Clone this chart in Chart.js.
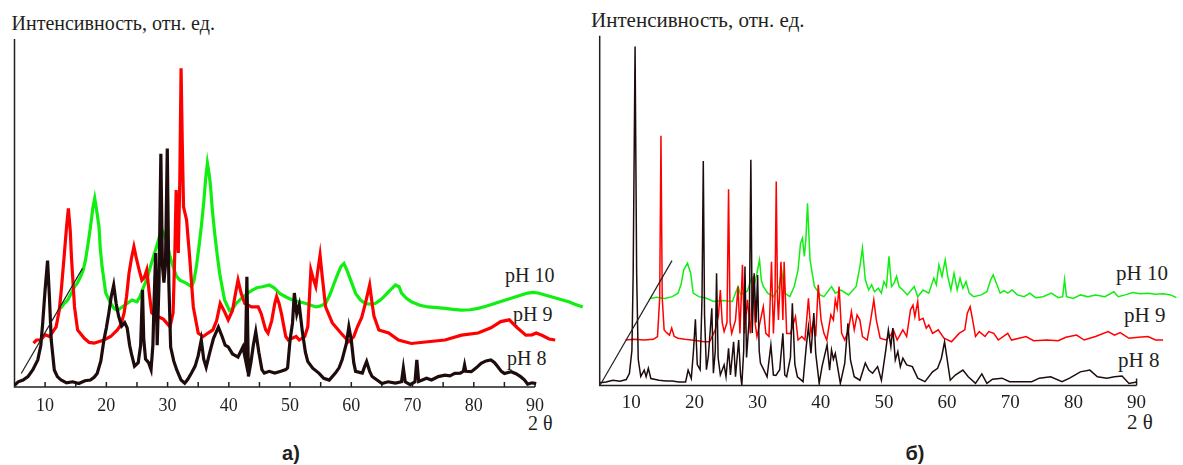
<!DOCTYPE html>
<html lang="ru">
<head>
<meta charset="utf-8">
<title>Дифрактограммы</title>
<script src="https://cdn.jsdelivr.net/npm/chart.js@4.4.1/dist/chart.umd.min.js"></script>
<style>
  body { margin: 0; background: #fff; }
  #page { position: relative; width: 1183px; height: 465px; overflow: hidden; background: #fff; }
  #page canvas { position: absolute; top: 0; }
  .lbl { position: absolute; white-space: nowrap; line-height: 1; color: #231f20;
         font-family: "Liberation Serif", "Times New Roman", "DejaVu Serif", serif; }
  .cap { position: absolute; width: 100px; text-align: center; line-height: 1; color: #231f20;
         font-family: "Liberation Sans", Arial, sans-serif; font-weight: bold; font-size: 20px; }
</style>
</head>
<body>
<div id="page">
  <div class="lbl" style="left:11.5px;top:13px;font-size:20px">Интенсивность, отн. ед.</div>
  <div class="lbl" style="left:505px;top:265px;font-size:20px">pH 10</div>
  <div class="lbl" style="left:513px;top:304px;font-size:20px">pH 9</div>
  <div class="lbl" style="left:507px;top:348px;font-size:20px">pH 8</div>
  <div class="lbl" style="left:528px;top:413px;font-size:20px">2 θ</div>
  <div class="cap" style="left:241px;top:443px">а)</div>

  <div class="lbl" style="left:591px;top:10px;font-size:21px">Интенсивность, отн. ед.</div>
  <div class="lbl" style="left:1116px;top:263px;font-size:21px">pH 10</div>
  <div class="lbl" style="left:1124px;top:305px;font-size:21px">pH 9</div>
  <div class="lbl" style="left:1118px;top:350px;font-size:21px">pH 8</div>
  <div class="lbl" style="left:1127px;top:412px;font-size:21px">2 θ</div>
  <div class="cap" style="left:865px;top:443px">б)</div>

  <canvas id="chartA" width="592" height="465" style="left:0"></canvas>
  <canvas id="chartB" width="593" height="465" style="left:590px"></canvas>
</div>

<script>
// подписи оси 2θ
const xTickLabels = [10, 20, 30, 40, 50, 60, 70, 80, 90];

// а) кривые сдвинуты вправо/вверх (псевдо-3D), точки [2θ, I] как на рисунке
const aPh8 = [[5.0,0.5],[5.6,1.5],[6.4,2.0],[7.2,3.0],[8.0,5.0],[8.8,7.8],[9.3,12],[9.6,18.3],[10.0,28],[10.4,36.3],
  [10.7,26],[11.0,13.5],[11.5,4.9],[12.0,3],[12.6,2],[13.5,1.2],[14.5,1.5],[15.5,1.0],[16.5,1.8],[17.4,2],
  [18.0,2.8],[18.5,3.9],[19.1,7.5],[19.6,13.5],[20.0,17],[20.4,21.2],[20.8,26],[21.2,29.3],[21.6,24],[22.0,20.4],
  [22.5,17.5],[23.0,18.5],[23.4,17],[23.8,12],[24.1,9.5],[24.6,6],[25.2,7],[25.6,12],[25.9,27.9],[26.1,14],
  [26.4,8],[26.9,7],[27.3,5],[27.6,12],[27.8,25],[28.05,38.5],[28.3,12],[28.6,30],[28.9,67],[29.15,35],
  [29.4,30],[29.65,35],[29.95,68.5],[30.2,30],[30.5,11.5],[31.0,7.5],[31.5,4.9],[32.2,2],[32.8,1.1],[33.3,2.2],
  [33.9,4],[34.5,6],[35.0,9],[35.5,13.5],[35.9,8],[36.3,5.7],[36.9,10],[37.5,14],[38.3,17.2],[38.9,14.5],
  [39.4,12],[39.9,11.5],[40.6,9.5],[41.5,8.6],[42.3,11.5],[42.7,8],[42.95,31.7],[43.2,3],[43.6,7],[44.0,12],
  [44.4,15.9],[44.9,10],[45.4,5],[45.8,4],[46.6,4.5],[47.5,4],[48.5,4.5],[49.3,5],[49.6,5.5],[50.0,13.5],
  [50.4,18.4],[50.7,27],[51.1,21],[51.5,23.6],[52.0,16],[52.5,10],[52.9,7.3],[53.7,5.4],[54.7,4],[55.5,2.5],
  [56.4,2],[57.4,4],[58.0,5.5],[58.5,7.8],[59.2,12.5],[59.6,17.3],[60.0,13.5],[60.4,7],[60.7,4.5],[61.8,4],
  [62.2,6],[62.5,7.3],[63.0,4.5],[63.4,3],[64.2,2],[65.0,1],[66.0,1.5],[67.2,1.1],[68.2,1.5],[68.5,5.4],
  [68.8,1.5],[69.6,0.7],[70.4,1.5],[70.7,7.8],[71.0,1.6],[72.3,2.5],[73.1,2],[74.2,3],[75.3,3.4],[76.1,3.2],
  [76.9,3.9],[77.8,4],[78.3,4.5],[78.5,6.3],[78.7,4.5],[79.6,4.4],[80.4,5.5],[81.2,6.8],[82.0,7.5],[82.8,7.8],
  [83.4,7],[83.9,5.9],[84.5,4.5],[85.0,3.9],[86.1,4.4],[86.9,3.8],[87.7,2.9],[88.3,2],[88.8,0.8],[89.5,1.2],[90.2,1]];

const aPh9 = [[8.1,12.6],[8.6,13.5],[9.3,13.5],[10.0,15],[10.7,14.5],[11.3,16],[11.8,17.3],[12.3,22],[12.6,27],[13.1,37.4],
  [13.5,46],[13.8,51.3],[14.1,45],[14.3,37.4],[14.8,23],[15.3,16.4],[16.4,14],[17.2,12.8],[18.0,12.6],[19.6,13.5],
  [20.7,14.5],[21.8,16.4],[22.4,18],[22.9,21.3],[23.3,26],[23.7,32.7],[24.1,37],[24.5,40.3],[24.9,37],[25.3,34],
  [25.8,30.7],[26.2,31.5],[26.6,33.6],[27.0,27],[27.4,21.3],[28.2,20.4],[29.3,19.5],[30.4,17.3],[30.9,21.3],[31.2,40],
  [31.4,56.6],[31.6,45],[31.75,38.5],[32.0,60],[32.2,91.6],[32.4,70],[32.6,51.8],[33.1,48],[33.6,37.4],[34.2,23],
  [35.0,15.5],[35.8,14.5],[36.6,15.5],[37.4,16.4],[38.0,19],[38.6,24],[39.2,22],[39.9,19.3],[40.6,22],[41.1,27],
  [41.5,30.7],[42.0,27],[42.6,24],[43.7,23],[44.8,23],[45.3,21],[46.0,16.5],[46.4,15.5],[47.0,19],[47.5,24],
  [47.8,26],[48.2,24],[48.6,21],[49.3,14.5],[49.7,13.5],[51.0,14.5],[51.5,13.5],[52.4,14.5],[52.9,17.3],[53.2,27],
  [53.4,33.6],[53.8,31],[54.2,28.9],[54.5,33],[54.9,37.9],[55.3,31],[55.8,23],[56.9,18.4],[58.3,15.5],[59.6,13],
  [60.4,14.5],[61.0,17.3],[61.7,20],[62.3,24],[63.0,29.3],[63.4,24],[63.7,20.4],[64.5,16.4],[66.1,15.5],[67.7,13.5],
  [69.8,12.5],[72.5,13],[75.3,13.5],[78.0,14.9],[80.7,15.5],[82.8,17],[84.4,18.8],[85.8,19.3],[87.1,17],[88.5,14.9],
  [89.5,15],[90.2,15.5],[91.2,14.8],[92.3,13.8],[93.3,13.5]];

const aPh10 = [[12.5,22.5],[13.1,24],[13.7,25],[14.3,27],[14.8,28.8],[15.3,30],[15.8,31.7],[16.2,33.5],[16.6,36.5],[17.0,41],
  [17.4,46],[17.8,51.5],[18.1,54.2],[18.4,51],[18.8,46],[19.0,40],[19.3,34.6],[19.9,27],[20.7,24.1],[21.3,22.5],
  [21.8,22],[22.6,23],[23.4,24],[24.2,25],[25.0,24.5],[25.5,26],[26.1,28.8],[26.7,31.5],[27.2,34.6],[27.7,37.5],
  [28.2,40.3],[28.7,43.5],[29.1,45.1],[29.5,43.5],[29.9,41.4],[30.4,37.5],[30.9,34.6],[31.4,32],[32.0,30.7],[33.1,29.8],
  [33.9,28.8],[34.3,30.5],[34.7,34.6],[35.1,40],[35.5,46],[35.9,53],[36.2,59.5],[36.5,64.3],[36.8,61],[37.0,58],
  [37.3,51],[37.7,44],[38.1,38],[38.5,32.7],[39.3,25],[40.1,22],[40.6,22.5],[41.2,24],[42.3,25.9],[43.1,27],
  [43.9,27.9],[44.7,28.6],[45.5,28.8],[46.6,29.3],[47.4,28.5],[48.3,26.9],[49.4,25.8],[50.4,25],[51.5,24.5],[52.6,24],
  [54.2,23],[55.0,23.3],[55.8,24],[56.5,26.5],[57.2,29.8],[57.8,32.5],[58.3,34.6],[58.8,35.5],[59.3,33.5],[59.9,30.7],
  [60.7,26.9],[61.5,25],[62.3,24],[63.1,23.8],[63.9,24],[64.6,24.8],[65.3,25.9],[66.0,27.2],[66.6,28.3],[67.2,29.3],
  [67.8,28.8],[68.2,27],[69.0,25.5],[69.8,24.5],[71.2,23.5],[72.5,23],[74.0,22.8],[75.3,22.6],[76.6,22.3],[78.0,22.1],
  [79.4,22.2],[80.7,22.6],[82.0,23.2],[83.4,24],[84.8,24.8],[86.1,25.5],[87.5,26.3],[88.8,27],[89.7,27.2],[90.5,27],
  [91.5,26.5],[92.5,26],[93.5,25.5],[94.5,25],[95.5,24.5],[96.5,23.8],[97.8,23]];

const aGuide = [[6.1,3.9],[16.1,34.1]];

// б)
const bPh8 = [[5.0,0.8],[6.0,1.0],[7.1,1.5],[8.2,1.2],[9.2,1.7],[9.7,3.4],[10.1,10],[10.3,32],[10.6,96.9],[10.85,32],
  [11.1,7.5],[11.5,2.6],[12.05,4.4],[12.35,2.5],[12.7,4.9],[13.1,2],[14.4,1.5],[15.5,1.3],[16.5,1.3],[17.5,1.0],
  [18.6,1.0],[19.0,4.4],[19.5,2],[19.85,10],[20.15,18.9],[20.45,6],[20.9,4.5],[21.2,25],[21.4,64.2],[21.6,20],
  [21.9,4.5],[22.2,8.3],[22.75,22.1],[23.0,3.5],[23.3,10],[23.5,32.1],[23.75,8],[24.1,3],[24.7,5.9],[25.0,2.5],
  [25.4,10.6],[25.7,3],[26.2,12.5],[26.5,2.5],[27.0,13],[27.3,3],[27.5,0.1],[27.8,10],[28.0,34],[28.25,8],
  [28.7,20],[28.93,64.5],[29.15,15],[29.45,32.1],[29.75,18],[30.0,31.6],[30.25,10],[30.45,6.4],[31.0,4.4],[31.5,2.5],
  [32.1,11.6],[32.5,3],[32.9,2.9],[33.5,4.5],[34.0,14.9],[34.3,3],[34.6,2.5],[35.2,8],[35.5,23.5],[35.9,6],
  [36.3,2.5],[37.2,1.1],[37.7,11.1],[38.05,16.8],[38.45,9.2],[38.9,20.7],[39.2,9.2],[39.75,0.6],[40.2,5.4],[41.0,11.6],
  [41.4,4.4],[41.7,10.2],[42.0,7.5],[42.3,9.2],[43.1,0.6],[43.8,6.4],[44.3,17.8],[44.7,7.3],[45.3,2.5],[46.2,1.5],
  [47.05,6.4],[47.6,4.4],[48.2,3.5],[49.0,5.4],[49.6,1.5],[50.3,10.2],[50.7,15.9],[51.1,11.1],[51.4,16.4],[51.8,7.3],
  [52.2,9.7],[52.6,5.4],[53.0,7.8],[53.6,5.9],[54.5,5.4],[55.35,2.1],[56.5,1.1],[57.7,3.9],[58.5,4.9],[59.1,7.8],
  [59.6,12.5],[60.1,6.4],[60.5,1.5],[61.3,3],[62.5,4.4],[63.35,2.5],[64.5,0.6],[65.5,3.3],[66.3,0.6],[67.2,1.8],
  [68.7,2.1],[69.9,1.1],[71.7,1.1],[73.4,1.1],[74.6,2.1],[76.4,2.5],[78.2,1.1],[79.4,2.1],[81.1,3.9],[82.6,4.4],
  [83.8,2.5],[85.3,2.1],[86.5,2.5],[87.7,2.7],[88.8,0.6],[90.0,1.0]];

const bPh9 = [[9.1,13],[10.5,13.2],[12.0,13],[13.5,13.2],[14.15,14],[14.5,25],[14.7,71.4],[14.9,25],[15.2,15.9],[15.6,15.1],
  [16.05,14.4],[16.4,16.4],[16.8,14],[17.4,13.5],[18.5,13.2],[19.5,13],[20.5,12.8],[21.5,12.5],[22.4,12.5],[23.3,15.9],
  [23.8,20],[24.1,27.3],[24.4,18],[24.7,15.4],[25.15,18],[25.4,56.1],[25.65,18],[25.9,14.9],[26.5,18.7],[26.9,28.3],
  [27.2,14.9],[27.6,34.5],[27.9,14.9],[28.4,24.5],[28.85,14.9],[29.3,31.2],[29.6,18],[29.9,14],[30.45,18.7],[30.9,22.5],
  [31.3,14.9],[31.8,14],[32.2,35.4],[32.5,14.9],[32.75,25],[32.95,58.3],[33.15,25],[33.3,18.7],[33.7,35.4],[34.0,18.7],
  [34.2,35.4],[34.6,14.9],[35.2,14.9],[36.0,19.7],[36.4,13],[37.0,14],[37.5,13],[38.05,24.9],[38.45,14.9],[38.9,18.7],
  [39.2,14],[39.6,28.8],[40.05,18.7],[40.5,14.9],[40.95,13],[41.6,20.2],[42.0,18.7],[42.3,24.5],[42.6,22.1],[42.9,28.3],
  [43.3,14.9],[43.8,13],[44.4,15.9],[44.85,21.1],[45.3,15.9],[45.75,20.2],[46.2,18.7],[46.6,14],[47.35,13],[47.9,18.7],
  [48.4,24.5],[48.8,18.7],[49.4,13.5],[50.3,13],[51.1,14.4],[51.5,15.9],[52.1,13],[53.0,15.9],[53.6,14],[54.2,21.6],
  [54.6,23],[54.9,19.7],[55.35,24],[55.6,18.7],[56.2,19.2],[56.7,16.4],[57.1,17.3],[57.7,14.9],[58.6,15.9],[59.5,13.5],
  [60.7,12.5],[61.9,14.9],[62.8,15.9],[63.2,20.7],[63.65,22.5],[64.05,18.7],[64.5,14],[65.1,15.4],[66.0,14],[66.6,15.4],
  [67.4,14.9],[68.1,13],[69.6,14.9],[70.2,13],[71.4,13.5],[72.5,14],[73.7,12.8],[75.8,13],[77.6,12.8],[78.8,13.8],
  [80.5,14.4],[81.7,13],[83.5,14],[85.5,15.4],[86.5,14.4],[87.4,15.1],[88.8,13.5],[90.3,13.8],[91.8,14],[93.0,13],[94.2,13]];

const bPh10 = [[13.0,24.9],[14.0,25.2],[15.3,24.9],[16.5,25.4],[17.4,26.4],[17.9,29],[18.3,33],[18.9,35],[19.4,32.1],[19.8,26.4],
  [20.7,25.4],[21.8,25],[23.05,24],[24.5,24.3],[26.0,24],[26.9,28.3],[27.3,26],[27.8,26.4],[28.4,27],[29.0,30.7],
  [29.5,29],[29.9,32.1],[30.3,35.9],[30.6,30],[30.9,28.3],[31.6,26.4],[32.5,25.4],[33.4,28.3],[33.8,33],[34.3,26.4],
  [35.1,25.4],[35.8,28.3],[36.4,33],[36.8,40.7],[37.1,42.1],[37.4,36.9],[37.65,42],[37.9,52.1],[38.15,42],[38.3,35.9],
  [38.6,32.6],[39.0,28.3],[39.9,25.9],[40.5,25.4],[41.7,28.3],[42.3,26.4],[43.2,27.3],[44.4,25.9],[45.6,28.3],[46.2,34],
  [46.6,39.3],[47.05,30.2],[47.6,27.3],[48.05,28.8],[48.5,26.8],[49.1,27.8],[49.6,26.4],[50.0,29.7],[50.4,28.3],[50.8,36.9],
  [51.2,28.3],[51.6,29.2],[52.0,31.2],[52.4,28.3],[53.0,27.3],[53.7,25.9],[54.8,28.3],[55.35,25.4],[56.2,27.3],[57.1,26.4],
  [57.9,30.7],[58.3,28.8],[58.7,34.5],[59.2,31.2],[59.7,35.9],[60.1,31.2],[60.6,27.3],[61.1,32.1],[61.6,27.3],[62.05,30.7],
  [62.5,27.8],[63.0,29.7],[63.5,26.4],[64.2,25.4],[65.4,25.9],[66.3,26.8],[66.9,30.2],[67.3,31.6],[67.8,29.2],[68.4,26.4],
  [69.0,27.1],[69.6,26.4],[70.3,27.3],[71.1,25.9],[72.2,25.4],[73.1,26.4],[74.0,25.1],[75.2,25.4],[76.5,26.4],[77.6,25.1],
  [78.3,25.4],[78.6,30.3],[78.9,25.4],[80.0,24.9],[81.1,25.9],[82.3,25.4],[83.5,25.9],[85.0,25.4],[86.4,26.8],[87.1,25.4],
  [88.2,25.9],[89.4,26.6],[90.6,26.2],[91.8,26.4],[93.0,26.1],[94.2,26.2],[95.4,25.9],[96.3,25.1]];

const bGuide = [[5.1,0.2],[16.45,35.7]];

const INK = '#231f20';
const BLACK = '#1e0b0b';
const RED = '#ff0000';
const GREEN = '#11ee11';

function toPoints(pairs) {
    return pairs.map(p => ({x: p[0], y: p[1]}));
}

// оси рисуем сами: ось x обрывается на 90, штрихи внутрь
const axisLines = {
    id: 'axisLines',
    beforeDatasetsDraw(chart, args, opts) {
        const ctx = chart.ctx;
        const x = chart.scales.x, y = chart.scales.y;
        const x0 = x.getPixelForValue(opts.from);
        const x1 = x.getPixelForValue(opts.to);
        const yb = y.getPixelForValue(0);
        const yt = y.getPixelForValue(100);
        ctx.save();
        ctx.strokeStyle = INK;
        ctx.lineWidth = opts.width;
        ctx.beginPath();
        ctx.moveTo(x0, yt);
        ctx.lineTo(x0, yb);
        ctx.lineTo(x1, yb);
        opts.marks.forEach(function (v) {
            const px = x.getPixelForValue(v);
            ctx.moveTo(px, yb);
            ctx.lineTo(px, yb - opts.markLen);
        });
        ctx.stroke();
        ctx.restore();
    }
};

function drawPanel(canvasId, series, cfg) {
    new Chart(document.getElementById(canvasId), {
        type: 'line',
        data: {
            datasets: [
                {data: toPoints(series.guide), borderColor: INK, borderWidth: 1.2},
                {data: toPoints(series.ph8), borderColor: BLACK, borderWidth: cfg.lw},
                {data: toPoints(series.ph9), borderColor: RED, borderWidth: cfg.lw},
                {data: toPoints(series.ph10), borderColor: GREEN, borderWidth: cfg.lw}
            ]
        },
        options: {
            responsive: false,
            animation: false,
            events: [],
            layout: {padding: cfg.pad},
            elements: {point: {radius: 0}, line: {tension: 0}},
            plugins: {
                legend: {display: false},
                tooltip: {enabled: false},
                axisLines: cfg.axis
            },
            scales: {
                x: {
                    type: 'linear',
                    min: 5,
                    max: cfg.xMax,
                    afterFit: function (s) { s.height = 30; },
                    border: {display: false},
                    grid: {display: false, drawTicks: false},
                    ticks: {
                        stepSize: 5,
                        autoSkip: false,
                        maxRotation: 0,
                        padding: cfg.tickPad,
                        color: INK,
                        font: {family: '"Liberation Serif", "DejaVu Serif", serif', size: cfg.tickSize},
                        callback: function (v) { return xTickLabels.includes(v) ? String(v) : ''; }
                    }
                },
                y: {display: false, min: 0, max: 100}
            }
        },
        plugins: [axisLines]
    });
}

drawPanel('chartA', {ph8: aPh8, ph9: aPh9, ph10: aPh10, guide: aGuide}, {
    xMax: 98, lw: 3.2, tickSize: 18, tickPad: 8,
    pad: {left: 14.5, right: 3.7, top: 39, bottom: 48},
    axis: {from: 5, to: 90, width: 1.5, markLen: 5, marks: [10, 15, 20, 25, 30, 35, 40, 45, 50, 55, 60, 65, 70, 75, 80, 85, 90]}
});

drawPanel('chartB', {ph8: bPh8, ph9: bPh9, ph10: bPh10, guide: bGuide}, {
    xMax: 96.4, lw: 1.5, tickSize: 19, tickPad: 6,
    pad: {left: 9.7, right: 0, top: 35.7, bottom: 49.5},
    axis: {from: 5, to: 90, width: 1.5, markLen: 7, marks: [90]}
});
</script>
</body>
</html>
